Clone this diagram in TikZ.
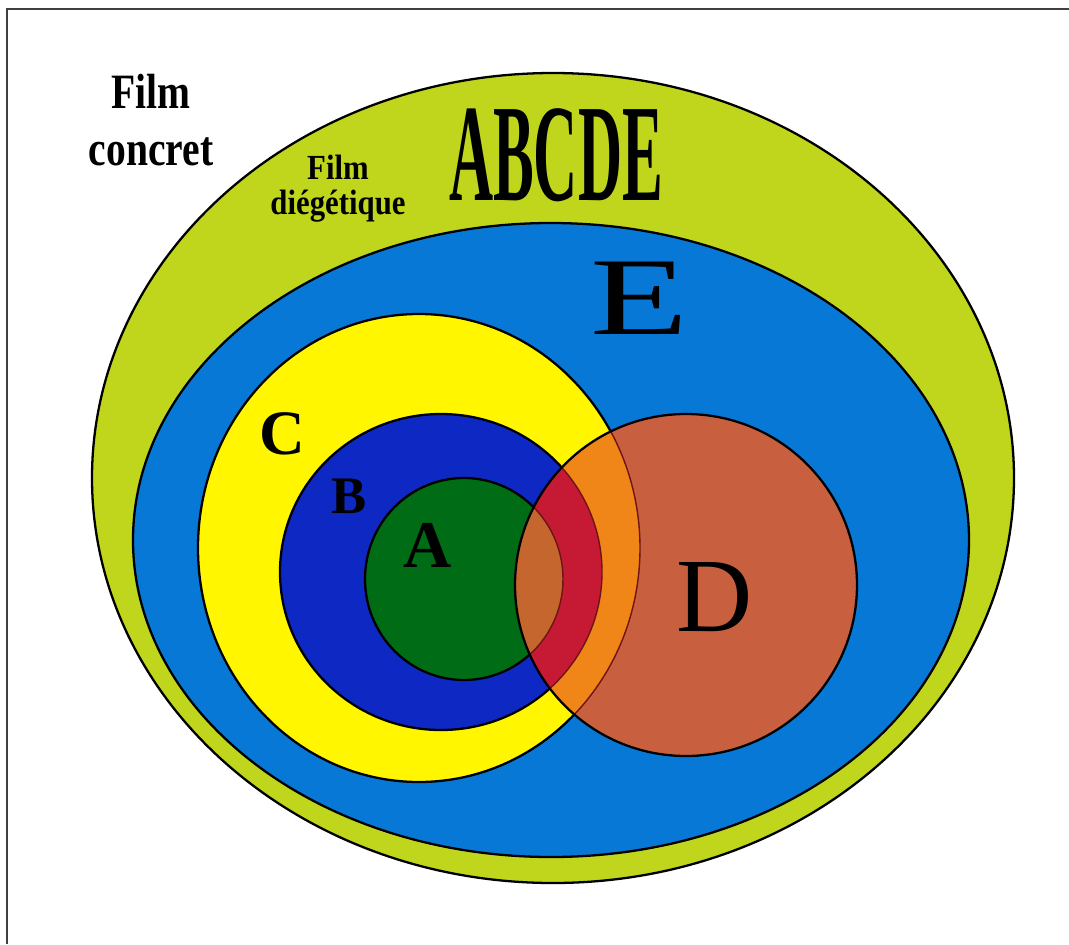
\documentclass[tikz,border=0pt]{standalone}
\usepackage{fontspec}
\setmainfont{Liberation Serif}

\definecolor{filmgreen}{RGB}{192,214,28}
\definecolor{eblue}{RGB}{8,120,214}
\definecolor{cyellow}{RGB}{255,246,0}
\definecolor{bblue}{RGB}{14,40,196}
\definecolor{agreen}{RGB}{0,108,22}
\definecolor{dbrick}{RGB}{200,96,64}
\definecolor{cdorange}{RGB}{240,134,24}
\definecolor{bdred}{RGB}{198,26,52}
\definecolor{adbrown}{RGB}{196,102,46}
\definecolor{maroonline}{RGB}{110,20,20}

% heavy labels are set taller than the font gives them
\newcommand{\tallword}[1]{\scalebox{1}[1.25]{#1}}
\newcommand{\smalltallword}[1]{\scalebox{1.03}[1.18]{#1}}

\tikzset{
  rim/.style={draw=black, line width=1.3pt},
  innerrim/.style={draw=maroonline, line width=0.8pt},
  setlbl/.style={inner sep=0pt, text=black},
  % radii of the sets (pixels of the reference)
  rFilm/.style={x radius=461, y radius=405},
  rE/.style={x radius=418, y radius=317},
  rC/.style={x radius=221, y radius=234},
  rB/.style={x radius=161, y radius=158},
  rA/.style={x radius=99, y radius=101},
  rD/.style={x radius=171, y radius=171},
}

\begin{document}
\begin{tikzpicture}[x=0.02cm, y=-0.02cm]
  \useasboundingbox (0,0) rectangle (1069,944);
  % frame (top and left edges only)
  \draw[black!75, line width=1.1pt] (7,944) -- (7,9) -- (1069,9);
  % centres of the sets
  \coordinate (cFilm) at (553,478);
  \coordinate (cE) at (551,540);
  \coordinate (cC) at (419,548);
  \coordinate (cB) at (441,572);
  \coordinate (cA) at (464,579);
  \coordinate (cD) at (686,585);
  % nested sets
  \draw[rim, fill=filmgreen] (cFilm) ellipse [rFilm];
  \draw[rim, fill=eblue] (cE) ellipse [rE];
  \draw[rim, fill=cyellow] (cC) ellipse [rC];
  \draw[rim, fill=bblue] (cB) ellipse [rB];
  \draw[rim, fill=agreen] (cA) ellipse [rA];
  % set D and its overlaps
  \begin{scope}
    \clip (cD) ellipse [rD];
    \fill[dbrick] (cD) ellipse [rD];
    \fill[cdorange] (cC) ellipse [rC];
    \fill[bdred] (cB) ellipse [rB];
    \fill[adbrown] (cA) ellipse [rA];
    \draw[innerrim] (cC) ellipse [rC];
    \draw[innerrim] (cB) ellipse [rB];
    \draw[innerrim] (cA) ellipse [rA];
  \end{scope}
  \draw[rim] (cD) ellipse [rD];
  % labels
  \node[setlbl, align=center, font=\fontsize{22.5}{32.4}\selectfont\bfseries]
    (concret) at (151,120) {\tallword{Film}\\\tallword{concret}};
  \node[setlbl, align=center, font=\fontsize{17}{20}\selectfont\bfseries]
    (diegetique) at (338,189) {\smalltallword{Film}\\\smalltallword{diégétique}};
  \node[setlbl, font=\fontsize{79}{79}\selectfont\bfseries]
    (abcde) at (556,155) {\scalebox{0.44}[1]{ABCDE}};
  \node[setlbl, font=\fontsize{63}{63}\selectfont]
    (labE) at (640,298) {\scalebox{1.45}[1]{E}};
  \node[setlbl, font=\fontsize{60}{60}\selectfont] (labD) at (715,597) {D};
  \node[setlbl, font=\fontsize{36}{36}\selectfont\bfseries] (labC) at (282,434) {C};
  \node[setlbl, font=\fontsize{30}{30}\selectfont\bfseries] (labB) at (349,496) {B};
  \node[setlbl, font=\fontsize{38}{38}\selectfont\bfseries] (labA) at (428,545) {A};
\end{tikzpicture}
\end{document}
